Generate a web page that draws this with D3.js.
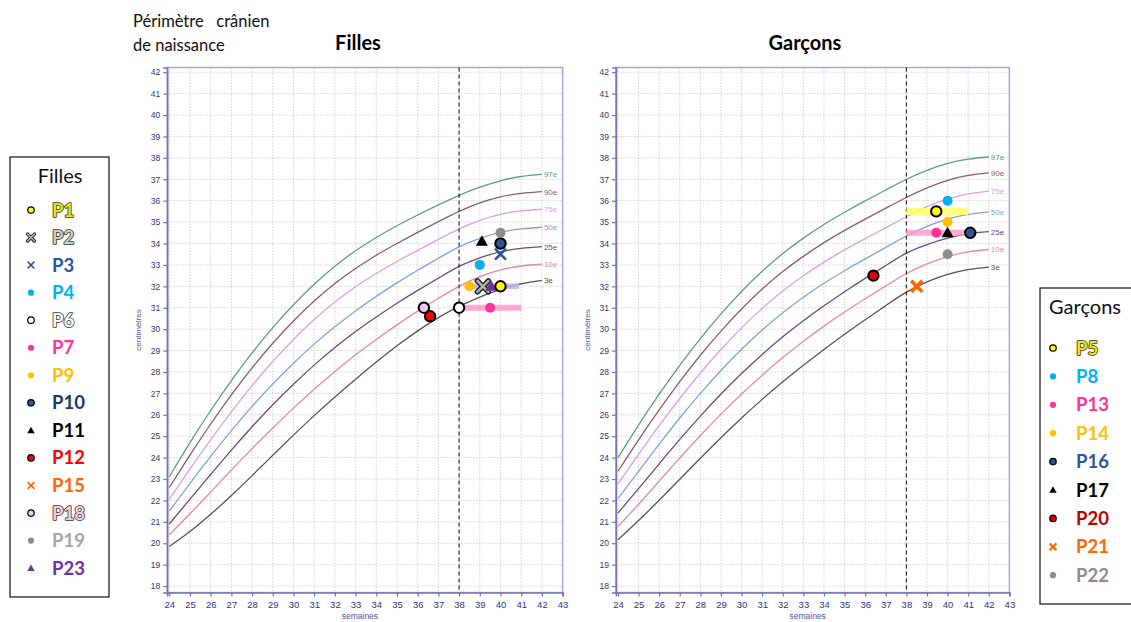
<!DOCTYPE html>
<html><head><meta charset="utf-8">
<script src="https://cdn.jsdelivr.net/npm/d3@7"></script>
<style>body{margin:0;background:#fff}svg{display:block}</style>
</head><body><svg id="c" width="1131" height="622"></svg>
<script>
// ---------- data ----------
const weeks = [24,25,26,27,28,29,30,31,32,33,34,35,36,37,38,39,40,41,42];
const xTicks = [24,25,26,27,28,29,30,31,32,33,34,35,36,37,38,39,40,41,42,43];
const yTicks = [18,19,20,21,22,23,24,25,26,27,28,29,30,31,32,33,34,35,36,37,38,39,40,41,42];
const percentiles = ["97e","90e","75e","50e","25e","10e","3e"];

const girls97 = [23.1,24.7,26.2,27.6,28.89,30.07,31.14,32.1,32.94,33.66,34.28,34.83,35.33,35.8,36.25,36.63,36.93,37.13,37.23];
const girls90 = [22.6,24.12,25.57,26.93,28.19,29.34,30.38,31.31,32.13,32.83,33.45,34.0,34.52,35.02,35.5,35.9,36.18,36.34,36.42];
const girls75 = [22.05,23.47,24.84,26.14,27.36,28.49,29.52,30.45,31.27,31.98,32.6,33.16,33.68,34.19,34.68,35.08,35.36,35.52,35.6];
const girls50 = [21.5,22.8,24.06,25.26,26.39,27.44,28.41,29.3,30.11,30.85,31.53,32.16,32.75,33.31,33.84,34.24,34.52,34.68,34.76];
const girls25 = [20.9,22.06,23.21,24.35,25.44,26.47,27.43,28.32,29.14,29.89,30.57,31.21,31.81,32.38,32.93,33.33,33.61,33.77,33.85];
const girls10 = [20.4,21.38,22.4,23.42,24.42,25.38,26.31,27.19,28.02,28.8,29.52,30.2,30.84,31.44,32.0,32.45,32.77,32.95,33.03];
const girls3  = [19.85,20.55,21.35,22.23,23.16,24.11,25.05,25.96,26.83,27.66,28.46,29.22,29.92,30.54,31.06,31.5,31.86,32.12,32.28];

const boys97 = [24.0,25.52,26.96,28.31,29.56,30.71,31.76,32.7,33.53,34.25,34.89,35.46,35.99,36.5,37.0,37.42,37.74,37.94,38.04];
const boys90 = [23.36,24.83,26.23,27.55,28.78,29.91,30.94,31.87,32.69,33.4,34.04,34.61,35.14,35.65,36.15,36.6,36.95,37.18,37.3];
const boys75 = [22.77,24.15,25.49,26.76,27.95,29.05,30.06,30.97,31.78,32.49,33.13,33.7,34.23,34.74,35.25,35.72,36.08,36.32,36.45];
const boys50 = [22.08,23.36,24.63,25.85,27.0,28.07,29.06,29.96,30.77,31.49,32.14,32.73,33.28,33.82,34.35,34.8,35.14,35.36,35.48];
const boys25 = [21.41,22.55,23.71,24.85,25.94,26.97,27.93,28.82,29.64,30.39,31.09,31.75,32.37,32.97,33.55,33.95,34.25,34.45,34.55];
const boys10 = [20.78,21.82,22.9,23.98,25.03,26.03,26.97,27.85,28.67,29.43,30.14,30.8,31.42,32.02,32.6,33.05,33.39,33.61,33.72];
const boys3  = [20.16,21.06,22.01,22.99,23.97,24.93,25.85,26.72,27.54,28.31,29.05,29.76,30.44,31.1,31.73,32.21,32.56,32.78,32.9];

// patients: id, terme (semaines), périmètre (cm)
const girlsIds   = ["P2","P23","P1","P9","P4","P11","P10","P19","P3","P6","P7","P18","P12"];
const girlsWeeks = [39.15,39.55,40,38.5,39,39.1,40,40,40,38,39.5,36.3,36.6];
const girlsHC    = [32,32,32,32,33,34.1,34,34.5,33.5,31,31,31,30.6];
const boysIds    = ["P5","P8","P14","P13","P17","P16","P22","P20","P21"];
const boysWeeks  = [39.45,40,40,39.45,40,41.1,40,36.4,38.5];
const boysHC     = [35.5,36,35,34.5,34.5,34.5,33.5,32.5,32];

// ranges (bands)
const girlsBandFrom = [38.5,38]; const girlsBandTo = [40.9,41]; const girlsBandHC = [32,31];
const boysBandFrom  = [38,38];   const boysBandTo  = [41,41];   const boysBandHC  = [35.5,34.5];

const legendGirls = ["P1","P2","P3","P4","P6","P7","P9","P10","P11","P12","P15","P18","P19","P23"];
const legendBoys  = ["P5","P8","P13","P14","P16","P17","P20","P21","P22"];

// ---------- styles ----------
const curveColors = ["#5f9c80","#8e5c68","#d9a0e2","#7ea5d6","#6c4a7c","#e68aa0","#555555"];
const markerStyle = {
  P1:{t:"ring",c:"#ffff00"}, P2:{t:"xo",c:"#b0b0b0"}, P3:{t:"x",c:"#2f5597"}, P4:{t:"dot",c:"#00b0f0"},
  P6:{t:"ring",c:"#ffffff"}, P7:{t:"dot",c:"#ff3399"}, P9:{t:"dot",c:"#ffc000"}, P10:{t:"ring",c:"#2f5597"},
  P11:{t:"tri",c:"#000000"}, P12:{t:"ring",c:"#ff0000"}, P15:{t:"x",c:"#ff6600"}, P18:{t:"ring",c:"#f4c8ee"},
  P19:{t:"dot",c:"#8c8c8c"}, P23:{t:"tri",c:"#7030a0"},
  P5:{t:"ring",c:"#ffff00"}, P8:{t:"dot",c:"#00b0f0"}, P13:{t:"dot",c:"#ff3399"}, P14:{t:"dot",c:"#ffc000"},
  P16:{t:"ring",c:"#2f5597"}, P17:{t:"tri",c:"#000000"}, P20:{t:"ring",c:"#e00000"}, P21:{t:"x",c:"#ff6600"},
  P22:{t:"dot",c:"#8c8c8c"}
};
const labelStyle = {
  P1:{f:"#e8e800",o:true}, P2:{f:"#c8cfc0",o:true}, P3:{f:"#2f5597"}, P4:{f:"#00b0f0"}, P6:{f:"#ffffff",o:true},
  P7:{f:"#ff3399"}, P9:{f:"#ffc000"}, P10:{f:"#1f3864"}, P11:{f:"#000000"}, P12:{f:"#ff0000"},
  P15:{f:"#ff6600"}, P18:{f:"#efd0ec",o:true}, P19:{f:"#a6a6a6"}, P23:{f:"#7030a0"},
  P5:{f:"#e8e800",o:true}, P8:{f:"#00b0f0"}, P13:{f:"#ff3399"}, P14:{f:"#ffc000"}, P16:{f:"#2f5597"},
  P17:{f:"#000000"}, P20:{f:"#c00000"}, P21:{f:"#ff6600"}, P22:{f:"#8c8c8c"}
};

const svg = d3.select("#c");
const axisColor = "#7474b4";
const textColor = "#34347a";

const y = d3.scaleLinear().domain([17.7, 42.22]).range([592.5, 67.5]);

function drawMarker(g, id, cx, cy, scale) {
  const s = markerStyle[id]; const k = scale;
  if (s.t === "ring") {
    g.append("circle").attr("cx",cx).attr("cy",cy).attr("r",5.2*k).attr("fill",s.c).attr("stroke","#000").attr("stroke-width",2*k);
  } else if (s.t === "dot") {
    g.append("circle").attr("cx",cx).attr("cy",cy).attr("r",5*k).attr("fill",s.c);
  } else if (s.t === "tri") {
    const a = 6*k;
    g.append("path").attr("d",`M${cx},${cy-a}L${cx+a},${cy+a*0.75}L${cx-a},${cy+a*0.75}Z`).attr("fill",s.c);
  } else if (s.t === "x" || s.t === "xo") {
    const a = 5.5*k;
    const d = `M${cx-a},${cy-a}L${cx+a},${cy+a}M${cx-a},${cy+a}L${cx+a},${cy-a}`;
    if (s.t === "xo") {
      g.append("path").attr("d",d).attr("stroke","#222").attr("stroke-width",5.5*k).attr("stroke-linecap","round");
      g.append("path").attr("d",d).attr("stroke",s.c).attr("stroke-width",2.6*k).attr("stroke-linecap","round");
    } else {
      g.append("path").attr("d",d).attr("stroke",s.c).attr("stroke-width",(id==="P21"?3.6:2.6)*k).attr("stroke-linecap","butt");
    }
  }
}

function drawChart(opt) {
  const x = d3.scaleLinear().domain([23.9, 43]).range(opt.range);
  const g = svg.append("g");
  const [x0, x1] = x.range(); const [yb, yt] = y.range();
  // grid
  g.append("g").selectAll("line").data(xTicks).join("line")
    .attr("x1",d=>x(d)).attr("x2",d=>x(d)).attr("y1",yt).attr("y2",yb)
    .attr("stroke","#c8c8c8").attr("stroke-width",0.8).attr("stroke-dasharray","1.5,1.5");
  g.append("g").selectAll("line").data(yTicks).join("line")
    .attr("x1",x0).attr("x2",x1).attr("y1",d=>y(d)).attr("y2",d=>y(d))
    .attr("stroke","#c8c8c8").attr("stroke-width",0.8).attr("stroke-dasharray","1.5,1.5");
  // frame
  g.append("rect").attr("x",x0).attr("y",yt).attr("width",x1-x0).attr("height",yb-yt)
    .attr("fill","none").attr("stroke","#a8a8d8").attr("stroke-width",1.5);
  // axes
  const ax = g.append("g").attr("transform",`translate(0,${yb})`)
    .call(d3.axisBottom(x).tickValues(xTicks).tickSize(4).tickPadding(5).tickFormat(d3.format("d")));
  const ay = g.append("g").attr("transform",`translate(${x0},0)`)
    .call(d3.axisLeft(y).tickValues(yTicks).tickSize(4).tickPadding(3).tickFormat(d3.format("d")));
  [ax, ay].forEach(a => {
    a.select(".domain").attr("stroke",axisColor).attr("stroke-width",1.6);
    a.selectAll(".tick line").attr("stroke",axisColor).attr("stroke-width",1.2);
    a.selectAll(".tick text").attr("fill",textColor).attr("font-family","Liberation Sans, Arial").attr("font-size",9.5);
  });
  ay.selectAll(".tick text").attr("font-size",8.5);
  g.append("text").attr("transform",`translate(${x0-26},${(yt+yb)/2}) rotate(-90)`)
    .attr("text-anchor","middle").attr("font-family","Liberation Sans, Arial").attr("font-size",8)
    .attr("fill","#5555a8").text("centimètres");
  g.append("text").attr("x",(x0+x1)/2 - 5).attr("y",619).attr("text-anchor","middle")
    .attr("font-family","Liberation Sans, Arial").attr("font-size",8.5).attr("fill","#5555a8").text("semaines");
  // curves
  const line = d3.line().x((d,i)=>x(weeks[i])).y(d=>y(d)).curve(d3.curveNatural);
  opt.curves.forEach((c,i) => {
    g.append("path").attr("d",line(c)).attr("fill","none").attr("stroke",curveColors[i]).attr("stroke-width",1.3);
    g.append("text").attr("x",x(weeks[weeks.length-1])+2).attr("y",y(c[c.length-1])+3)
      .attr("font-family","Liberation Sans, Arial").attr("font-size",8).attr("fill",curveColors[i]).text(percentiles[i]);
  });
  // 38 weeks dashed line
  g.append("line").attr("x1",x(38)).attr("x2",x(38)).attr("y1",yt).attr("y2",yb)
    .attr("stroke","#222").attr("stroke-width",1.1).attr("stroke-dasharray","4,3");
  // bands
  opt.bandFrom.forEach((b,i) => {
    g.append("line").attr("x1",x(b)).attr("x2",x(opt.bandTo[i])).attr("y1",y(opt.bandHC[i])).attr("y2",y(opt.bandHC[i]))
      .attr("stroke",opt.bandColors[i]).attr("stroke-width",opt.bandWidth[i]).attr("opacity",0.85);
  });
  // patients
  const pg = g.append("g");
  opt.ids.forEach((id,i) => drawMarker(pg, id, x(opt.wk[i]), y(opt.hc[i]), 1));
  // title
  svg.append("text").attr("x",opt.titleX).attr("y",50).attr("text-anchor","middle")
    .attr("font-family","Lato, Open Sans, sans-serif").attr("font-weight","bold").attr("font-size",20)
    .attr("fill","#000").text(opt.title);
}

drawChart({range:[167.2, 562.6], title:"Filles", titleX:358,
  curves:[girls97,girls90,girls75,girls50,girls25,girls10,girls3],
  ids:girlsIds, wk:girlsWeeks, hc:girlsHC,
  bandFrom:girlsBandFrom, bandTo:girlsBandTo, bandHC:girlsBandHC,
  bandColors:["#c0aee6","#ff9cc8"], bandWidth:[5.5,6]});
drawChart({range:[615.9, 1009.4], title:"Garçons", titleX:805,
  curves:[boys97,boys90,boys75,boys50,boys25,boys10,boys3],
  ids:boysIds, wk:boysWeeks, hc:boysHC,
  bandFrom:boysBandFrom, bandTo:boysBandTo, bandHC:boysBandHC,
  bandColors:["#ffff66","#ff9cc8"], bandWidth:[7,6]});

// heading
svg.append("text").attr("x",133).attr("y",27).attr("font-family","Lato, Open Sans, sans-serif").attr("font-size",16.5)
  .attr("fill","#111").attr("xml:space","preserve").text("Périmètre   crânien");
svg.append("text").attr("x",133).attr("y",51).attr("font-family","Lato, Open Sans, sans-serif").attr("font-size",16.5)
  .attr("fill","#111").text("de naissance");

// legends
function drawLegend(opt) {
  const g = svg.append("g");
  g.append("rect").attr("x",opt.x).attr("y",opt.y).attr("width",opt.w).attr("height",opt.h)
    .attr("fill","#fff").attr("stroke","#222").attr("stroke-width",1.3);
  g.append("text").attr("x",opt.titleX).attr("y",opt.y+26).attr("text-anchor","middle")
    .attr("font-family","Lato, Open Sans, sans-serif").attr("font-size",20).attr("fill","#111").text(opt.title);
  opt.ids.forEach((id,i) => {
    const cy = opt.y0 + i*opt.step;
    drawMarker(g, id, opt.mx, cy, 0.62);
    const ls = labelStyle[id];
    const t = g.append("text").attr("x",opt.tx).attr("y",cy+6.5)
      .attr("font-family","Lato, Open Sans, sans-serif").attr("font-weight","bold").attr("font-size",18.5)
      .attr("fill",ls.f).text(id);
    if (ls.o) t.attr("stroke","#333").attr("stroke-width",1.6).attr("paint-order","stroke").attr("stroke-linejoin","round");
  });
}
drawLegend({x:10,y:157,w:99,h:440,title:"Filles",titleX:60,ids:legendGirls,y0:210,step:27.55,mx:31,tx:52});
drawLegend({x:1040,y:288,w:100,h:316,title:"Garçons",titleX:1085,ids:legendBoys,y0:348,step:28.4,mx:1053,tx:1076});
</script>
</body></html>
